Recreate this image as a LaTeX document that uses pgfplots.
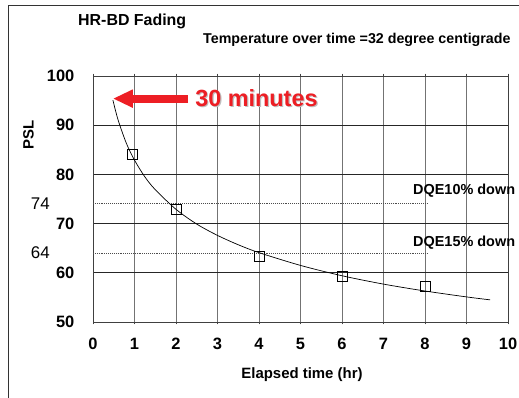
\documentclass[border=0pt]{standalone}
\usepackage{pgfplots}
\pgfplotsset{compat=1.18}
\usepackage{fontspec}
\setmainfont{Liberation Sans}
\usetikzlibrary{arrows.meta}
\definecolor{arrowred}{RGB}{237,30,36}
\begin{document}
\begin{tikzpicture}
\useasboundingbox (0,0) rectangle (519bp,398bp);
\draw[black!80, line width=0.8bp] (8bp,0) -- (8bp,393bp) -- (519bp,393bp);
\node[anchor=base west, inner sep=0pt, font=\fontsize{16}{18}\selectfont\bfseries] at (78bp,372bp) {HR-BD Fading};
\node[anchor=base west, inner sep=0pt, font=\fontsize{14.3}{16}\selectfont\bfseries] at (203bp,354bp) {Temperature over time =32 degree centigrade};
\node[rotate=90, inner sep=0pt, font=\fontsize{15}{17}\selectfont\bfseries] at (28.5bp,263bp) {PSL};
\node[anchor=base, inner sep=0pt, font=\fontsize{15}{17}\selectfont\bfseries] at (302bp,20bp) {Elapsed time (hr)};
\begin{axis}[
  at={(93bp,76bp)}, anchor=south west,
  scale only axis, width=415bp, height=246bp,
  xmin=0, xmax=10, ymin=50, ymax=100,
  xtick={0,1,...,10}, ytick={50,60,...,100},
  grid=major,
  x grid style={black!55, line width=0.8bp},
  y grid style={black!85, line width=0.8bp},
  axis line style={black!75, line width=0.9bp},
  xtick style={black!75, line width=0.8bp},
  ytick style={draw=none},
  tick align=outside,
  major tick length=2.5bp,
  clip=false,
  xticklabel style={font=\fontsize{16.5}{18}\selectfont\bfseries, inner sep=0pt, yshift=-13bp},
  yticklabel style={font=\fontsize{16.5}{18}\selectfont\bfseries, inner sep=0pt, xshift=-16bp},
  /pgf/number format/assume math mode=true,
]
\addplot[black!70, densely dotted, line width=0.9bp] coordinates {(0,74) (8.07,74)};
\addplot[black!70, densely dotted, line width=0.9bp] coordinates {(0,64) (8.07,64)};
\addplot[black, line width=0.7bp, smooth] coordinates {
(0.48,95.1) (0.6,91.2) (0.8,86.4) (1,82.9) (1.25,79.5) (1.5,76.9) (2,72.9) (2.5,69.9) (3,67.6) (3.5,65.7) (4,64.1) (5,61.5) (6,59.4) (7,57.7) (8,56.3) (9,55.1) (9.57,54.5)};
\addplot[only marks, mark=square, mark size=5bp, mark options={black, line width=0.7bp, fill=none}] coordinates {
(0.96,84.1) (2,72.8) (4,63.4) (6,59.3) (8,57.3)};
\node[anchor=east, inner sep=0pt, xshift=-43bp, font=\fontsize{17}{19}\selectfont] at (axis cs:0,74) {74};
\node[anchor=east, inner sep=0pt, xshift=-43bp, font=\fontsize{17}{19}\selectfont] at (axis cs:0,64) {64};
\node[anchor=west, inner sep=0pt, font=\fontsize{14.5}{16}\selectfont\bfseries] at (axis cs:7.71,76.6) {DQE10\% down};
\node[anchor=west, inner sep=0pt, font=\fontsize{14.5}{16}\selectfont\bfseries] at (axis cs:7.71,66.2) {DQE15\% down};
\draw[arrowred, line width=8bp, -{Triangle[length=20bp, width=17bp]}] (axis cs:2.29,95.4) -- (axis cs:0.48,95.4);
\node[anchor=west, inner sep=0pt, text=black!25, xshift=1.2bp, yshift=-1.2bp, font=\fontsize{23.5}{25}\selectfont\bfseries] at (axis cs:2.46,95.5) {30 minutes};
\node[anchor=west, inner sep=0pt, text=arrowred, font=\fontsize{23.5}{25}\selectfont\bfseries] at (axis cs:2.46,95.5) {30 minutes};
\end{axis}
\end{tikzpicture}
\end{document}
